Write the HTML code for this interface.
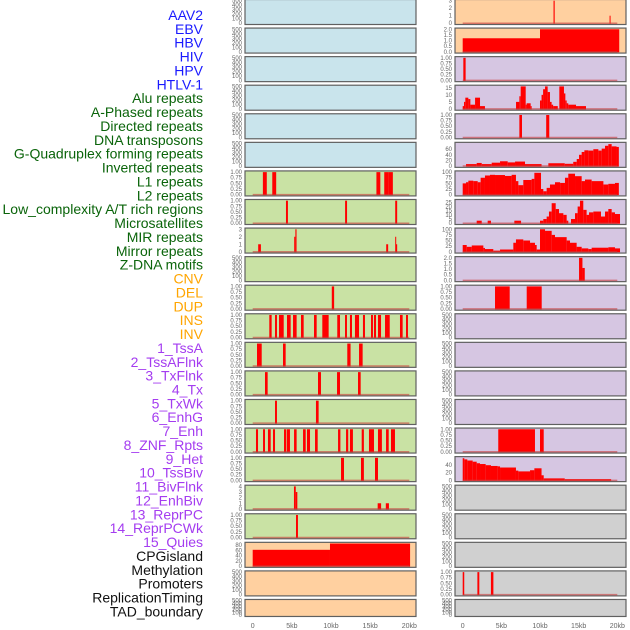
<!DOCTYPE html>
<html><head><meta charset="utf-8">
<style>
html,body{margin:0;padding:0;background:#fff;width:630px;height:630px;overflow:hidden}
svg{display:block}
</style></head>
<body>
<svg id="chart" width="630" height="630" xmlns="http://www.w3.org/2000/svg"></svg>
<script>
const labels = ["AAV2","EBV","HBV","HIV","HPV","HTLV-1","Alu repeats","A-Phased repeats","Directed repeats","DNA transposons","G-Quadruplex forming repeats","Inverted repeats","L1 repeats","L2 repeats","Low_complexity A/T rich regions","Microsatellites","MIR repeats","Mirror repeats","Z-DNA motifs","CNV","DEL","DUP","INS","INV","1_TssA","2_TssAFlnk","3_TxFlnk","4_Tx","5_TxWk","6_EnhG","7_Enh","8_ZNF_Rpts","9_Het","10_TssBiv","11_BivFlnk","12_EnhBiv","13_ReprPC","14_ReprPCWk","15_Quies","CPGisland","Methylation","Promoters","ReplicationTiming","TAD_boundary"];
const labelGroups = [6,13,5,15,5];
const groupColors = ["#1a1aff","#0a640a","#ffa500","#a43cf0","#111111"];
const xTicks = [0,5,10,15,20];
const xTickLabels = ["0","5kb","10kb","15kb","20kb"];
const E = null; // empty panel (0..500 ticks)
// each track: [ymax, ticks, decimals, bars [startKb,endKb,value]]
const leftTracks = [
 E,E,E,E,E,E,
 [1,[0,.25,.5,.75,1],2,[[1.3,1.8,1],[2.5,3.0,1],[15.8,16.3,1],[16.8,17.3,1],[17.3,17.9,1]]],
 [1,[0,.25,.5,.75,1],2,[[4.25,4.5,1],[11.8,12.05,1],[18.2,18.45,1]]],
 [3,[0,1,2,3],0,[[0.7,1.05,1],[5.3,5.45,2],[5.45,5.6,3],[17.05,17.3,1],[18.2,18.3,2],[18.3,18.45,1]]],
 E,
 [1,[0,.25,.5,.75,1],2,[[10.1,10.4,1]]],
 [1,[0,.25,.5,.75,1],2,[[2.12,2.42,1],[2.85,3.1,1],[3.36,3.96,1],[4.38,4.85,1],[5.15,5.61,1],[6.17,6.51,1],[7.83,8.17,1],[8.89,9.7,1],[10.8,11.15,1],[11.79,12.04,1],[12.42,12.68,1],[13.06,13.58,1],[14.08,14.34,1],[15.11,15.36,1],[15.49,15.75,1],[16.0,16.39,1],[16.9,17.5,1],[18.81,19.15,1],[19.58,19.83,1]]],
 [1,[0,.25,.5,.75,1],2,[[0.55,1.15,1],[3.87,4.21,1],[12.08,12.5,1],[13.58,14.04,1]]],
 [1,[0,.25,.5,.75,1],2,[[1.57,1.91,1],[8.34,8.72,1],[10.77,11.15,1],[13.45,13.79,1]]],
 [1,[0,.25,.5,.75,1],2,[[2.85,3.1,1],[8.08,8.42,1]]],
 [1,[0,.25,.5,.75,1],2,[[0.42,0.68,1],[1.32,1.57,1],[1.95,2.3,1],[2.59,2.85,1],[4.0,4.3,1],[4.38,4.76,1],[5.28,5.61,1],[6.43,6.77,1],[6.93,7.32,1],[7.96,8.3,1],[10.9,11.2,1],[11.92,12.2,1],[12.42,12.8,1],[13.92,14.2,1],[14.85,15.49,1],[16.0,16.5,1],[17.03,17.37,1],[17.66,18.17,1]]],
 [1,[0,.25,.5,.75,1],2,[[11.28,11.66,1],[13.83,14.2,1],[15.62,16.0,1]]],
 [4,[0,1,2,3,4],0,[[5.27,5.5,4],[5.5,5.7,3],[15.96,16.4,1],[17.0,17.4,1]]],
 [1,[0,.25,.5,.75,1],2,[[5.53,5.78,1]]],
 [86,[0,20,40,60,80],0,[[0,9.87,62],[9.87,20.1,86]]],
 E,E
];
const rightTracks = [
 [3,[0,1,2,3],0,[[11.75,11.9,3],[19.0,19.12,1]]],
 [2,[0,.5,1,1.5,2],1,[[0,10,1.2],[10,20.25,2]]],
 [1,[0,.25,.5,.75,1],2,[[0.08,0.38,1]]],
 [16,[0,5,10,15],0,[[0,0.17,2],[0.17,0.34,5],[0.34,0.73,8],[0.73,0.99,7],[0.99,1.6,3],[1.6,2.24,8],[2.24,2.88,2],[6.9,7.33,5],[7.33,7.5,9],[7.5,8.15,16],[8.15,8.27,3],[8.27,8.79,4],[8.79,8.92,2],[10.0,10.2,6],[10.2,10.4,10],[10.4,10.65,14],[10.65,10.99,16],[10.99,11.29,12],[11.29,11.5,5],[11.5,11.7,3],[11.7,12.3,2],[12.5,13.1,16],[13.1,13.28,11],[13.28,13.45,6],[13.45,13.66,4],[13.66,14.66,3],[14.66,15.95,2]]],
 [1,[0,.25,.5,.75,1],2,[[7.33,7.67,1],[10.8,11.2,1]]],
 [80,[0,20,40,60],0,[[0.43,1.81,7],[1.81,2.46,11],[2.46,3.75,7],[3.75,4.83,12],[4.83,5.82,17],[5.82,6.77,13],[6.77,8.06,16],[8.06,10.2,7],[11.08,13.2,10],[13.2,14.3,8],[14.3,14.75,15],[14.75,15.05,25],[15.05,15.39,40],[15.39,15.74,50],[15.74,16.25,56],[16.25,16.9,55],[16.9,17.55,60],[17.55,17.98,55],[17.98,18.41,62],[18.41,18.84,72],[18.84,19.27,78],[19.27,19.9,70],[19.9,20.2,68]]],
 [100,[0,25,50,75,100],0,[[0,0.43,50],[0.43,0.73,55],[0.73,1.37,62],[1.37,1.94,60],[1.94,2.32,55],[2.32,2.88,75],[2.88,3.53,85],[3.53,4.18,88],[4.18,5.47,87],[5.47,6.33,83],[6.33,6.89,88],[6.89,7.2,60],[7.2,7.84,42],[7.84,8.92,65],[8.92,9.27,70],[9.27,10.13,97],[10.13,10.43,25],[10.43,10.86,15],[10.86,11.29,30],[11.29,11.94,45],[11.94,12.6,55],[12.6,13.23,52],[13.23,13.66,75],[13.66,14.53,93],[14.53,15.39,82],[15.39,15.82,60],[15.82,16.68,67],[16.68,18.2,60],[18.2,18.84,45],[18.84,19.7,48],[19.7,20.2,52]]],
 [27,[0,5,10,15,20,25],0,[[1.81,2.46,3],[3.23,3.66,3],[6.68,7.55,3],[10.0,10.43,3],[10.43,10.86,5],[10.86,11.16,8],[11.16,11.51,14],[11.51,12.03,24],[12.03,12.46,17],[12.46,13.02,12],[13.02,13.45,10],[13.45,13.66,3],[14.01,14.53,5],[14.53,14.87,12],[14.87,15.17,20],[15.17,15.6,27],[15.6,16.03,16],[16.03,16.34,10],[16.34,16.9,13],[16.9,17.89,14],[17.89,18.41,8],[18.41,18.84,14],[18.84,19.27,17],[19.27,19.7,13],[19.7,20.35,11]]],
 [100,[0,25,50,75,100],0,[[0,0.52,30],[0.52,1.17,22],[1.17,2.67,28],[2.67,2.88,17],[2.88,3.96,12],[3.96,4.83,5],[4.83,6.55,10],[6.55,6.89,40],[6.89,7.84,55],[7.84,8.71,50],[8.71,9.35,40],[9.35,9.57,30],[9.57,10.0,10],[10.0,10.65,100],[10.65,11.51,93],[11.51,11.94,75],[11.94,13.45,65],[13.45,13.88,50],[13.88,14.74,40],[14.74,15.39,22],[15.39,16.25,15],[16.25,16.68,12],[16.68,18.84,18],[18.84,19.7,20],[19.7,20.35,15]]],
 [2,[0,.5,1,1.5,2],1,[[15.05,15.49,2],[15.49,15.79,1.1]]],
 [1,[0,.25,.5,.75,1],2,[[4.18,6.08,1],[8.28,10.22,1]]],
 E,E,E,E,
 [1,[0,.25,.5,.75,1],2,[[4.6,9.35,1],[10.0,10.48,1]]],
 [58,[0,20,40],0,[[0,0.21,57],[0.21,0.6,54],[0.6,1.29,51],[1.29,1.81,48],[1.81,2.24,44],[2.24,2.97,42],[2.97,3.66,39],[3.66,4.52,37],[4.52,4.83,36],[4.83,6.89,33],[6.89,7.2,25],[7.2,8.71,23],[8.71,9.27,26],[9.27,10.2,31],[10.2,10.48,13],[10.48,13.2,5],[13.2,19.2,3]]],
 E,E,E,
 [1,[0,.25,.5,.75,1],2,[[0,0.2,1],[1.9,2.15,1],[3.65,3.97,1]]],
 E
];
const leftFills = ["#c9e4ec","#c9e2a4","#ffd0a0"], leftCounts=[6,13,3];
const rightFills = ["#ffd0a0","#d6c6e2","#d0d0d0"], rightCounts=[2,15,5];

const NS="http://www.w3.org/2000/svg";
const svg=document.getElementById('chart');
function mk(tag,attrs,parent){const e=document.createElementNS(NS,tag);for(const k in attrs)e.setAttribute(k,attrs[k]);(parent||svg).appendChild(e);return e;}

// labels
let li=0;
labelGroups.forEach((n,g)=>{for(let j=0;j<n;j++){
  const t=mk('text',{x:203,y:15+li*13.87+5,'text-anchor':'end','font-family':'Liberation Sans, sans-serif','font-size':14,fill:groupColors[g]});
  t.textContent=labels[li];
  
  
  li++;}});

function fillFor(fills,counts,i){let c=0;for(let k=0;k<counts.length;k++){c+=counts[k];if(i<c)return fills[k];}return fills[fills.length-1];}

function drawColumn(tracks,px0,px1,x0,x20,fills,counts,side){
  const xs=kb=>x0+kb*(x20-x0)/20;
  tracks.forEach((tr,i)=>{
    const top=i*28.57-0.5, h=(i===21)?17:25, bot=top+h;
    const g=mk('g',{});
    
    
    mk('rect',{x:px0,y:top,width:px1-px0,height:h,fill:fillFor(fills,counts,i),stroke:'#606060','stroke-width':1.2},g);
    const ymax=tr?tr[0]:500, ticks=tr?tr[1]:[0,100,200,300,400,500], dec=tr?tr[2]:0;
    const ys=v=>bot-1.3-v/ymax*(h-2.5);
    ticks.forEach(v=>{
      const t=mk('text',{x:px0-3,y:ys(v)+2,'text-anchor':'end','font-family':'Liberation Sans, sans-serif','font-size':6,fill:'#666'},g);
      t.textContent=v.toFixed(dec);
      
      
    });
    if(tr){
      tr[3].forEach(b=>{
        const r=mk('rect',{x:xs(b[0]),y:ys(b[2]),width:Math.max(1,xs(b[1])-xs(b[0])),height:ys(0)-ys(b[2])+0.5,fill:'#ff0000'},g);
        
        
      });
      const l=mk('line',{x1:xs(0),x2:xs(20),y1:ys(0),y2:ys(0),stroke:'rgba(200,60,60,0.6)','stroke-width':1.5},g);
      
      
    }
  });
  xTicks.forEach((v,k)=>{
    const t=mk('text',{x:xs(v),y:628,'text-anchor':'middle','font-family':'Liberation Sans, sans-serif','font-size':7,fill:'#666'});
    t.textContent=xTickLabels[k];
    
    
  });
}
drawColumn(leftTracks,245,416,252.7,409.3,leftFills,leftCounts,'left');
drawColumn(rightTracks,455,626,462.7,617.3,rightFills,rightCounts,'right');
</script>
</body></html>
